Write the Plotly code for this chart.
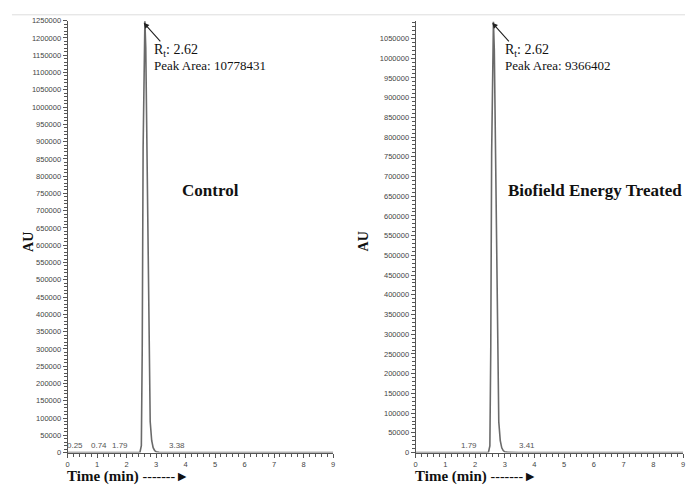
import plotly.graph_objects as go

# ---- data ----
time_control = [0, 0.20, 0.25, 0.32, 0.68, 0.74, 0.80, 1.72, 1.79, 1.86, 2.45, 2.50, 2.53,
                2.56, 2.59, 2.62, 2.65, 2.68, 2.71, 2.74, 2.77, 2.80, 2.85, 2.90, 2.95,
                3.00, 3.10, 3.33, 3.38, 3.44, 9.0]
au_control = [0, 0, 1500, 0, 0, 1500, 0, 0, 1800, 0, 0, 20000, 300000,
              880000, 1200000, 1248000, 1170000, 930000, 640000, 380000, 190000, 90000,
              35000, 14000, 6000, 2500, 600, 0, 1200, 0, 0]

time_treated = [0, 1.72, 1.79, 1.86, 2.45, 2.50, 2.53, 2.56, 2.59, 2.62, 2.65, 2.68,
                2.71, 2.74, 2.77, 2.80, 2.85, 2.90, 2.95, 3.00, 3.10, 3.36, 3.41, 3.47, 9.0]
au_treated = [0, 0, 1500, 0, 0, 17000, 260000, 760000, 1040000, 1092000, 1020000, 810000,
              560000, 330000, 165000, 78000, 30000, 12000, 5000, 2000, 500, 0, 1000, 0, 0]

peaks_control = [0.25, 0.74, 1.79, 3.38]
peaks_treated = [1.79, 3.41]
rt_main = 2.62
area_control = 10778431
area_treated = 9366402
ymax_control = 1250000
ymax_treated = 1095000
ytick_max_control = 1250000
ytick_max_treated = 1050000
ytick_step = 50000
x_ticks = list(range(0, 10))

W, H = 687, 488
y_bot, y_top = 457, 17
dom_y = [(H - y_bot) / H, (H - y_top) / H]
dom_x1 = [66 / W, 333 / W]
dom_x2 = [416 / W, 685 / W]

fig = go.Figure()
line_col = "#6a6a6a"
fig.add_trace(go.Scatter(x=time_control, y=au_control, mode="lines",
                         line=dict(color=line_col, width=1.6), xaxis="x", yaxis="y",
                         hoverinfo="skip", showlegend=False))
fig.add_trace(go.Scatter(x=time_treated, y=au_treated, mode="lines",
                         line=dict(color=line_col, width=1.6), xaxis="x2", yaxis="y2",
                         hoverinfo="skip", showlegend=False))

tickfont = dict(family="Liberation Sans, Arial", size=7.5, color="#444")

def yticks(mx):
    vals = list(range(0, mx + 1, ytick_step))
    return vals, [str(v) for v in vals]

yv1, yt1 = yticks(ytick_max_control)
yv2, yt2 = yticks(ytick_max_treated)

common_x = dict(range=[0, 9], showline=True, linecolor="#555", linewidth=1,
                ticks="outside", ticklen=4, tickcolor="#555", tickvals=x_ticks,
                ticktext=[str(v) for v in x_ticks], tickfont=tickfont,
                showgrid=False, zeroline=False, fixedrange=True,
                minor=dict(ticks="outside", ticklen=3, dtick=0.2, tickcolor="#555", showgrid=False))
common_y = dict(showline=True, linecolor="#555", linewidth=1, ticks="outside", ticklen=4,
                tickcolor="#555", tickfont=tickfont, showgrid=False, zeroline=False,
                minor=dict(ticks="outside", ticklen=3, dtick=10000, tickcolor="#555", showgrid=False))

fig.update_layout(
    width=W, height=H, margin=dict(l=0, r=0, t=0, b=0),
    paper_bgcolor="white", plot_bgcolor="white", showlegend=False,
    xaxis=dict(common_x, domain=dom_x1, anchor="y"),
    yaxis=dict(common_y, domain=dom_y, range=[0, ymax_control], anchor="x",
               tickvals=yv1, ticktext=yt1),
    xaxis2=dict(common_x, domain=dom_x2, anchor="y2"),
    yaxis2=dict(common_y, domain=dom_y, range=[0, ymax_treated], anchor="x2",
                tickvals=yv2, ticktext=yt2),
)

# top light rule
fig.add_shape(type="line", xref="paper", yref="paper", x0=10 / W, x1=1, y0=(H - 11) / H,
              y1=(H - 11) / H, line=dict(color="#dddddd", width=1))

serif = "Liberation Serif, Times New Roman, serif"
small_lab = dict(family="Liberation Sans, Arial", size=8, color="#555")

def peak_labels(peaks, xr, yr):
    prev = None
    for p in peaks:
        crowded = prev is not None and p - prev < 0.6
        anchor = "left" if (p > rt_main or crowded) else "center"
        fig.add_annotation(x=p, y=0, xref=xr, yref=yr, text=f"{p:.2f}", showarrow=False,
                           xanchor=anchor, yanchor="bottom", yshift=1, font=small_lab)
        prev = p

peak_labels(peaks_control, "x", "y")
peak_labels(peaks_treated, "x2", "y2")

def main_annot(xr, yr, ymax, area, xpx):
    fig.add_annotation(x=rt_main - 0.04, y=ymax * 0.995, xref=xr, yref=yr, text="",
                       showarrow=True, arrowhead=2, arrowsize=1, arrowwidth=1.1,
                       arrowcolor="#222", ax=18, ay=20, axref="pixel", ayref="pixel")
    fig.add_annotation(x=xpx / W, y=(H - 47) / H, xref="paper", yref="paper",
                       text="R<sub>t</sub>: 2.62", showarrow=False, xanchor="left",
                       yanchor="middle", font=dict(family=serif, size=14, color="#111"))
    fig.add_annotation(x=xpx / W, y=(H - 63) / H, xref="paper", yref="paper",
                       text=f"Peak Area: {area}", showarrow=False, xanchor="left",
                       yanchor="middle", font=dict(family=serif, size=13, color="#111"))

main_annot("x", "y", ymax_control, area_control, 151)
main_annot("x2", "y2", ymax_treated, area_treated, 504)

title_font = dict(family=serif, size=17, color="#111")
fig.add_annotation(x=179 / W, y=(H - 190) / H, xref="paper", yref="paper",
                   text="<b>Control</b>", showarrow=False, xanchor="left", font=title_font)
fig.add_annotation(x=507 / W, y=(H - 190) / H, xref="paper", yref="paper",
                   text="<b>Biofield Energy Treated</b>", showarrow=False, xanchor="left",
                   font=title_font)

for xp in (17, 364):
    fig.add_annotation(x=xp / W, y=(H - 242) / H, xref="paper", yref="paper",
                       text="<b>AU</b>", showarrow=False, textangle=-90,
                       font=dict(family=serif, size=14, color="#111"))
for xp in (63, 413):
    fig.add_annotation(x=xp / W, y=(H - 481) / H, xref="paper", yref="paper",
                       text="<b>Time (min)</b> <span style='font-size:14px'>-------►</span>",
                       showarrow=False, xanchor="left", yanchor="middle",
                       font=dict(family=serif, size=15, color="#111"))

fig.write_html("out.html")
